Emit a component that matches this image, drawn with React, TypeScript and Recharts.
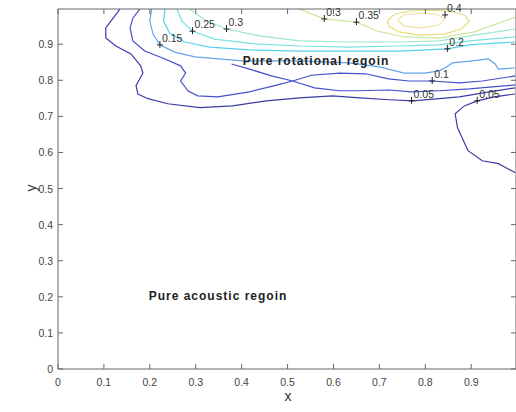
import React from 'react';
import { ComposedChart, Line, Scatter, XAxis, YAxis } from 'recharts';

// contour lines as [x, y] pairs
const level005 = [[0.135,0.997],[0.104,0.945],[0.104,0.917],[0.126,0.895],[0.159,0.873],[0.180,0.840],[0.185,0.820],[0.170,0.785],[0.174,0.762],[0.196,0.749],[0.239,0.735],[0.309,0.724],[0.380,0.729],[0.454,0.743],[0.526,0.751],[0.598,0.757],[0.657,0.751],[0.722,0.746],[0.772,0.743],[0.830,0.749],[0.874,0.754],[0.939,0.768],[0.996,0.779]];
const level005b = [[0.996,0.762],[0.950,0.754],[0.913,0.743],[0.885,0.729],[0.865,0.707],[0.870,0.669],[0.893,0.605],[0.924,0.577],[0.959,0.569],[0.996,0.544]];
const level010 = [[0.178,0.997],[0.163,0.972],[0.157,0.945],[0.163,0.909],[0.189,0.881],[0.233,0.859],[0.267,0.840],[0.278,0.820],[0.267,0.798],[0.283,0.771],[0.304,0.757],[0.348,0.754],[0.417,0.768],[0.472,0.785],[0.511,0.798],[0.552,0.814],[0.613,0.820],[0.670,0.818],[0.720,0.804],[0.765,0.798],[0.815,0.798],[0.874,0.793],[0.924,0.798],[0.996,0.812]];
const level010b = [[0.378,0.845],[0.417,0.831],[0.465,0.812],[0.511,0.798],[0.559,0.779],[0.613,0.771],[0.657,0.771],[0.720,0.773],[0.770,0.768],[0.830,0.771],[0.896,0.776],[0.996,0.787]];
const level015 = [[0.204,0.997],[0.200,0.964],[0.207,0.928],[0.222,0.898],[0.254,0.878],[0.298,0.865],[0.402,0.854],[0.526,0.854],[0.635,0.848],[0.700,0.837],[0.754,0.820],[0.798,0.820],[0.830,0.826],[0.846,0.837],[0.859,0.848],[0.902,0.854],[0.937,0.859],[0.952,0.845],[0.959,0.831],[0.996,0.834]];
const level020 = [[0.233,0.997],[0.230,0.964],[0.243,0.931],[0.276,0.906],[0.330,0.892],[0.417,0.884],[0.526,0.881],[0.635,0.881],[0.743,0.881],[0.848,0.887],[0.896,0.898],[0.950,0.903],[0.996,0.906]];
const level025 = [[0.259,0.997],[0.270,0.964],[0.293,0.936],[0.341,0.914],[0.428,0.901],[0.526,0.895],[0.635,0.892],[0.743,0.895],[0.830,0.898],[0.896,0.909],[0.996,0.920]];
const level030 = [[0.287,0.997],[0.320,0.967],[0.367,0.942],[0.439,0.923],[0.526,0.909],[0.635,0.906],[0.743,0.906],[0.830,0.909],[0.907,0.925],[0.996,0.942]];
const level035 = [[0.526,0.997],[0.580,0.970],[0.650,0.961],[0.696,0.936],[0.754,0.920],[0.830,0.917],[0.907,0.934],[0.961,0.959],[0.996,0.975]];
const level040 = [[0.717,0.964],[0.733,0.983],[0.765,0.992],[0.809,0.994],[0.852,0.992],[0.885,0.981],[0.896,0.964],[0.878,0.942],[0.841,0.928],[0.787,0.925],[0.743,0.934],[0.722,0.948],[0.717,0.964]];
const level045 = [[0.739,0.967],[0.754,0.981],[0.787,0.986],[0.824,0.983],[0.843,0.970],[0.830,0.953],[0.791,0.945],[0.754,0.950],[0.739,0.967]];

// clabel positions and texts
const labelX = [0.222, 0.293, 0.367, 0.580, 0.650, 0.843, 0.848, 0.815, 0.770, 0.913];
const labelY = [0.898, 0.936, 0.942, 0.970, 0.961, 0.981, 0.887, 0.798, 0.743, 0.743];
const labelText = ['0.15', '0.25', '0.3', '0.3', '0.35', '0.4', '0.2', '0.1', '0.05', '0.05'];

const xTicks = [0, 0.1, 0.2, 0.3, 0.4, 0.5, 0.6, 0.7, 0.8, 0.9];
const yTicks = [0, 0.1, 0.2, 0.3, 0.4, 0.5, 0.6, 0.7, 0.8, 0.9];

const series = [
  { id: 'c005', pts: level005, color: '#3c3ca8' },
  { id: 'c005b', pts: level005b, color: '#3c3ca8' },
  { id: 'c010', pts: level010, color: '#4650cc' },
  { id: 'c010b', pts: level010b, color: '#4650cc' },
  { id: 'c015', pts: level015, color: '#62a4ea' },
  { id: 'c020', pts: level020, color: '#5cd0ee' },
  { id: 'c025', pts: level025, color: '#78e2de' },
  { id: 'c030', pts: level030, color: '#9ee8c8' },
  { id: 'c035', pts: level035, color: '#cce8a0' },
  { id: 'c040', pts: level040, color: '#e6de7a' },
  { id: 'c045', pts: level045, color: '#f0e0a8' },
];

const labels = labelX.map((x, i) => ({ x, y: labelY[i], label: labelText[i] }));

const AXIS = '#666';
const FONT = '"Liberation Sans", Arial, sans-serif';

const BottomTick = ({ x, y, payload }: any) => (
  <g>
    <line x1={x} x2={x} y1={y} y2={y - 5} stroke={AXIS} />
    <text x={x} y={y + 17} textAnchor="middle" fontSize={10.5} fontFamily={FONT} fill="#444">{payload.value}</text>
  </g>
);

const LeftTick = ({ x, y, payload }: any) => (
  <g>
    <line x1={x} x2={x + 5} y1={y} y2={y} stroke={AXIS} />
    <text x={x - 5} y={y + 4} textAnchor="end" fontSize={10.5} fontFamily={FONT} fill="#444">{payload.value}</text>
  </g>
);

const TopTick = ({ x, y }: any) => <line x1={x} x2={x} y1={y} y2={y + 5} stroke={AXIS} />;
const RightTick = ({ x, y }: any) => <line x1={x} x2={x - 5} y1={y} y2={y} stroke={AXIS} />;

const ClabelMark = ({ cx, cy, payload }: any) => (
  <g>
    <line x1={cx - 3} x2={cx + 3} y1={cy} y2={cy} stroke="#222" />
    <line x1={cx} x2={cx} y1={cy - 4} y2={cy + 3} stroke="#222" />
    <text x={cx + 2} y={cy - 3} fontSize={10.5} fontFamily={FONT} fill="#333">{payload.label}</text>
  </g>
);

export default function App() {
  return (
    <div style={{ position: 'fixed', top: 0, left: 0, width: 516, height: 412, overflow: 'hidden', background: '#fff' }}>
      <ComposedChart width={519} height={412} margin={{ top: 8, right: 2, left: 0, bottom: 0 }}>
        <XAxis type="number" dataKey="x" domain={[0, 0.9975]} ticks={xTicks} interval={0}
          height={43} tickSize={0} tickMargin={0} tick={<BottomTick />} tickLine={false}
          axisLine={{ stroke: AXIS }} />
        <XAxis xAxisId="top" orientation="top" type="number" dataKey="x" domain={[0, 0.9975]} ticks={xTicks}
          interval={0} height={1} tickSize={0} tickMargin={0} tick={<TopTick />} tickLine={false}
          axisLine={{ stroke: AXIS }} />
        <YAxis type="number" dataKey="y" domain={[0, 0.9975]} ticks={yTicks} interval={0}
          width={58} tickSize={0} tickMargin={0} tick={<LeftTick />} tickLine={false}
          axisLine={{ stroke: AXIS }} />
        <YAxis yAxisId="right" orientation="right" type="number" dataKey="y" domain={[0, 0.9975]} ticks={yTicks}
          interval={0} width={1} tickSize={0} tickMargin={0} tick={<RightTick />} tickLine={false}
          axisLine={{ stroke: AXIS }} />
        {series.map((s) => (
          <Line key={s.id} data={s.pts.map(([x, y]) => ({ x, y }))} dataKey="y" type="linear"
            stroke={s.color} strokeWidth={1.2} dot={false} activeDot={false} isAnimationActive={false} />
        ))}
        <Scatter data={labels} dataKey="y" xAxisId="top" yAxisId="right" shape={<ClabelMark />} isAnimationActive={false} />
      </ComposedChart>
      <svg width={516} height={412} style={{ position: 'absolute', top: 0, left: 0, pointerEvents: 'none' }}>
        <text x={316} y={65} textAnchor="middle" fontSize={12} fontWeight="bold" letterSpacing={1} fontFamily={FONT} fill="#222">Pure rotational regoin</text>
        <text x={218} y={300} textAnchor="middle" fontSize={12} fontWeight="bold" letterSpacing={1} fontFamily={FONT} fill="#222">Pure acoustic regoin</text>
        <text x={288} y={401} textAnchor="middle" fontSize={14} fontFamily={FONT} fill="#333">x</text>
        <text x={36} y={188} textAnchor="middle" fontSize={14} fontFamily={FONT} fill="#333" transform="rotate(-90 36 188)">y</text>
      </svg>
    </div>
  );
}
